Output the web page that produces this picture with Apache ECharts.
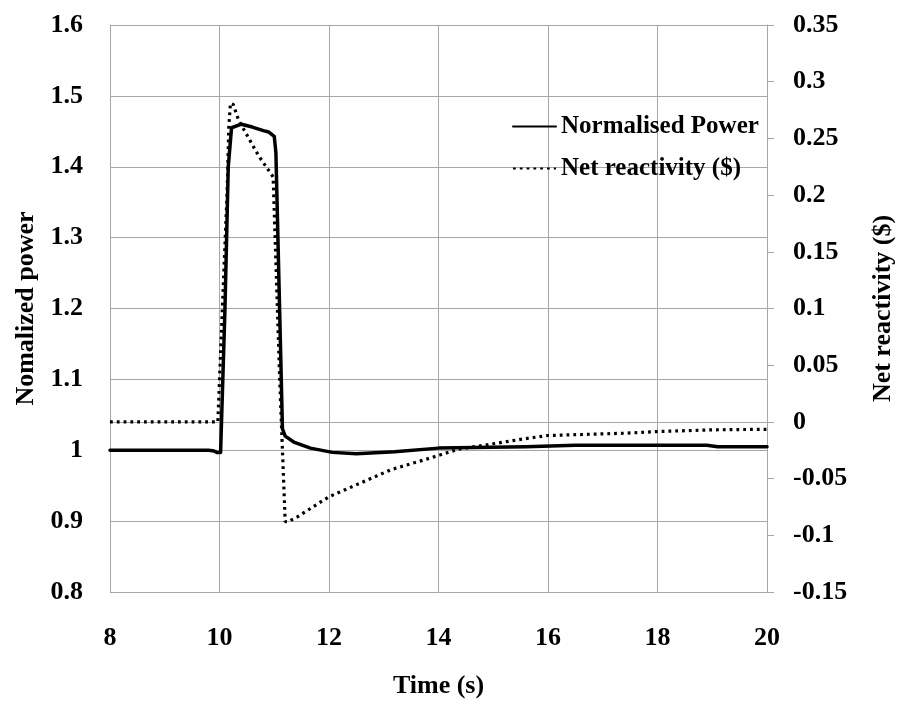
<!DOCTYPE html>
<html>
<head>
<meta charset="utf-8">
<script src="https://cdn.jsdelivr.net/npm/echarts@6/dist/echarts.min.js"></script>
<style>
  html, body { margin: 0; padding: 0; background: #ffffff; overflow: hidden; }
  #chart { width: 904px; height: 704px; }
</style>
</head>
<body>
<div id="chart"></div>
<script>
// Transient: normalised reactor power and net reactivity (dollars) vs time
const powerTime = [8.0, 9.8, 9.9, 9.95, 10.02, 10.1, 10.16, 10.22, 10.4, 10.6, 10.8, 10.9, 11.0, 11.03, 11.15, 11.2, 11.37, 11.66, 12.06, 12.5, 13.2, 14.0, 15.6, 16.5, 18.9, 19.1, 20.0];
const powerValues = [1.0, 1.0, 0.999, 0.997, 0.997, 1.2, 1.40, 1.455, 1.46, 1.456, 1.451, 1.449, 1.443, 1.42, 1.03, 1.02, 1.011, 1.003, 0.997, 0.995, 0.998, 1.003, 1.005, 1.007, 1.007, 1.005, 1.005];

const reactivityTime = [8.0, 9.97, 10.0, 10.14, 10.17, 10.2, 10.25, 10.35, 10.71, 10.98, 11.1, 11.2, 11.25, 11.43, 12.0, 12.57, 13.14, 13.77, 14.37, 15.04, 15.55, 16.0, 17.4, 18.0, 19.0, 20.0];
const reactivityValues = [0.0, 0.0, 0.037, 0.204, 0.26, 0.281, 0.28, 0.266, 0.235, 0.216, 0.037, -0.088, -0.088, -0.0835, -0.066, -0.054, -0.042, -0.033, -0.024, -0.019, -0.015, -0.012, -0.010, -0.0085, -0.007, -0.0065];

const timeTickLabels = ['8', '10', '12', '14', '16', '18', '20'];
const powerTickLabels = ['0.8', '0.9', '1', '1.1', '1.2', '1.3', '1.4', '1.5', '1.6'];
const reactivityTickLabels = ['-0.15', '-0.1', '-0.05', '0', '0.05', '0.1', '0.15', '0.2', '0.25', '0.3', '0.35'];

const seriesNames = ['Normalised Power', 'Net reactivity ($)'];

const FONT = 'Liberation Serif';
const GRID = '#a6a6a6';

const zip = (xs, ys) => xs.map((x, i) => [x, ys[i]]);

const chart = echarts.init(document.getElementById('chart'), null, { renderer: 'canvas', width: 904, height: 704 });

const labelStyle = { color: '#000', fontFamily: FONT, fontWeight: 'bold', fontSize: 26 };

chart.setOption({
  animation: false,
  backgroundColor: '#ffffff',
  grid: { left: 110, right: 129, top: 25, bottom: 112, containLabel: false },
  legend: {
    data: seriesNames,
    orient: 'vertical',
    left: 512,
    top: 114,
    padding: 0,
    itemWidth: 43,
    itemHeight: 14,
    itemGap: 17,
    itemStyle: { opacity: 0 },
    textStyle: { color: '#000', fontFamily: FONT, fontWeight: 'bold', fontSize: 25 }
  },
  xAxis: {
    type: 'value',
    min: 8, max: 20, interval: 2,
    name: 'Time (s)',
    nameLocation: 'middle',
    nameGap: 81,
    nameTextStyle: labelStyle,
    axisLine: { show: true, lineStyle: { color: GRID, width: 1 } },
    axisTick: { show: false },
    splitLine: { show: true, lineStyle: { color: GRID, width: 1 } },
    axisLabel: {
      margin: 33,
      ...labelStyle,
      formatter: v => timeTickLabels[Math.round((v - 8) / 2)]
    }
  },
  yAxis: [
    {
      type: 'value',
      position: 'left',
      min: 0.8, max: 1.6, interval: 0.1,
      name: 'Nomalized power',
      nameLocation: 'middle',
      nameGap: 68,
      nameTextStyle: labelStyle,
      axisLine: { show: true, lineStyle: { color: GRID, width: 1 } },
      axisTick: { show: false },
      splitLine: { show: true, lineStyle: { color: GRID, width: 1 } },
      axisLabel: {
        margin: 27,
        ...labelStyle,
        formatter: v => powerTickLabels[Math.round((v - 0.8) / 0.1)]
      }
    },
    {
      type: 'value',
      position: 'right',
      min: -0.15, max: 0.35, interval: 0.05,
      name: 'Net reactivity ($)',
      nameLocation: 'middle',
      nameGap: 103,
      nameTextStyle: labelStyle,
      axisLine: { show: true, lineStyle: { color: GRID, width: 1 } },
      axisTick: { show: true, inside: false, length: 7, lineStyle: { color: GRID, width: 1 } },
      splitLine: { show: false },
      axisLabel: {
        margin: 26,
        ...labelStyle,
        formatter: v => reactivityTickLabels[Math.round((v + 0.15) / 0.05)]
      }
    }
  ],
  series: [
    {
      name: seriesNames[0],
      type: 'line',
      yAxisIndex: 0,
      data: zip(powerTime, powerValues),
      symbol: 'none',
      smooth: false,
      lineStyle: { color: '#000', width: 3.5, join: 'round', cap: 'round' },
      itemStyle: { color: '#000' },
      z: 3
    },
    {
      name: seriesNames[1],
      type: 'line',
      yAxisIndex: 1,
      data: zip(reactivityTime, reactivityValues),
      symbol: 'none',
      smooth: false,
      lineStyle: { color: '#000', width: 3.2, type: [2.8, 4], cap: 'butt' },
      itemStyle: { color: '#000' },
      z: 2
    }
  ]
});
</script>
</body>
</html>
